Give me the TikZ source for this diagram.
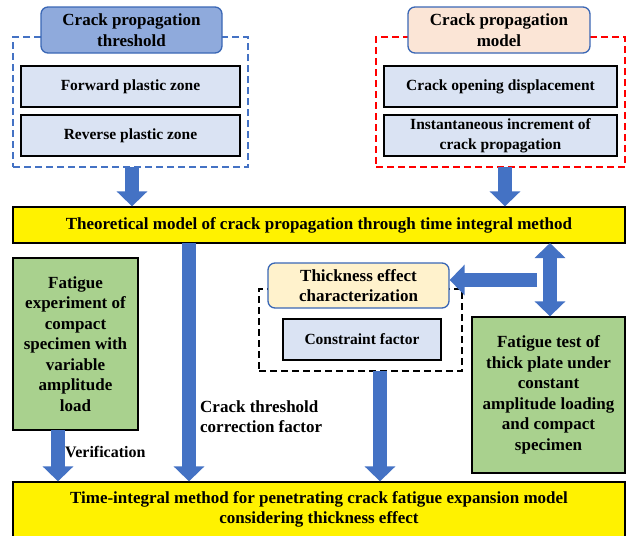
\documentclass[tikz,border=0pt]{standalone}
\usepackage{fontspec}
\setmainfont{Liberation Serif}
\usetikzlibrary{arrows.meta}
\definecolor{arrowblue}{HTML}{4472C4}
\definecolor{titleblue}{HTML}{8FAADC}
\definecolor{edgeblue}{HTML}{3A67B5}
\definecolor{peach}{HTML}{FBE5D6}
\definecolor{lightyel}{HTML}{FFF2CC}
\definecolor{lightblue}{HTML}{DAE3F3}
\definecolor{greenbox}{HTML}{A9D18E}
\tikzset{
  txt/.style={font=\bfseries\fontsize{17}{20.5}\selectfont, align=center, inner sep=0pt},
  smalltxt/.style={font=\bfseries\fontsize{15.5}{20}\selectfont},
  titlebox/.style={txt, draw=edgeblue, line width=1.3pt, rounded corners=7pt},
  itembox/.style={txt, smalltxt, draw=black, line width=1.5pt, fill=lightblue},
  yelbox/.style={txt, draw=black, line width=1.3pt, fill=yellow},
  grnbox/.style={txt, draw=black, line width=1.3pt, fill=greenbox},
  grp/.style={line width=1.1pt, dash pattern=on 7pt off 4pt},
  blockarrow/.style={draw=arrowblue, line width=14pt, -{Triangle[width=30pt,length=15pt]}},
  dblarrow/.style={draw=arrowblue, line width=14pt, {Triangle[width=30pt,length=15pt]}-{Triangle[width=30pt,length=15pt]}},
  lbl/.style={font=\bfseries\fontsize{17}{20}\selectfont, align=left, inner sep=0pt}
}
\begin{document}
\begin{tikzpicture}[x=1pt,y=-1pt]
\useasboundingbox (0,0) rectangle (633,536);
% left group
\node[grp, draw=arrowblue, minimum width=235pt, minimum height=130pt, inner sep=0pt] (bgrp) at (130.5,102) {};
\node[titlebox, fill=titleblue, minimum width=181pt, minimum height=46pt] (thr) at (131.5,30) {Crack propagation\\threshold};
\node[itembox, minimum width=219pt, minimum height=41pt] (fwd) at (130.5,86.5) {Forward plastic zone};
\node[itembox, minimum width=219pt, minimum height=41pt] (rev) at (130.5,135.5) {Reverse plastic zone};
% right group
\node[grp, draw=red, minimum width=249pt, minimum height=130pt, inner sep=0pt] (rgrp) at (500.5,102) {};
\node[titlebox, fill=peach, minimum width=182pt, minimum height=46pt] (mdl) at (499,30) {Crack propagation\\model};
\node[itembox, minimum width=233pt, minimum height=41pt] (cod) at (500.5,86.5) {Crack opening displacement};
\node[itembox, minimum width=233pt, minimum height=41pt] (inc) at (500.5,135.5) {Instantaneous increment of\\crack propagation};
% theoretical model
\node[yelbox, minimum width=612pt, minimum height=36pt] (theo) at (319,225) {Theoretical model of crack propagation through time integral method};
% left green
\node[grnbox, minimum width=125pt, minimum height=172pt] (fexp) at (75.5,344) {Fatigue\\experiment of\\compact\\specimen with\\variable\\amplitude\\load};
% thickness group
\node[grp, draw=black, minimum width=203pt, minimum height=82pt, inner sep=0pt] (kgrp) at (360.5,330) {};
\node[titlebox, fill=lightyel, minimum width=181pt, minimum height=45pt] (thick) at (358.5,285.5) {Thickness effect\\characterization};
\node[itembox, minimum width=158pt, minimum height=41pt] (cons) at (362,339.5) {Constraint factor};
% right green
\node[grnbox, minimum width=153pt, minimum height=156pt] (ftest) at (548.5,395) {Fatigue test of\\thick plate under\\constant\\amplitude loading\\and compact\\specimen};
% bottom
\node[yelbox, minimum width=612pt, minimum height=55pt] (tim) at (319,509.5) {Time-integral method for penetrating crack fatigue expansion model\\considering thickness effect};
% coordinates
\coordinate (a1s) at (132,167);
\coordinate (a2s) at (505,167);
\coordinate (a3s) at (189,243);
\coordinate (a4s) at (58,430);
\coordinate (a5s) at (380,371);
\coordinate (a6s) at (537,280);
\coordinate (a7s) at (550,243);
% arrows
\draw[blockarrow] (a1s) -- (a1s |- theo.north);
\draw[blockarrow] (a2s) -- (a2s |- theo.north);
\draw[blockarrow] (a3s) -- (a3s |- tim.north);
\draw[blockarrow] (a4s) -- (a4s |- tim.north);
\draw[blockarrow] (a5s) -- (a5s |- tim.north);
\draw[blockarrow] (a6s) -- (a6s -| thick.east);
\draw[dblarrow] (a7s) -- (a7s |- ftest.north);
% labels
\node[lbl, font=\bfseries\fontsize{16}{20}\selectfont, anchor=west] (ver) at (65,452) {Verification};
\node[lbl, anchor=north west] (ctf) at (200,401) {Crack threshold\\correction factor};
\end{tikzpicture}
\end{document}
